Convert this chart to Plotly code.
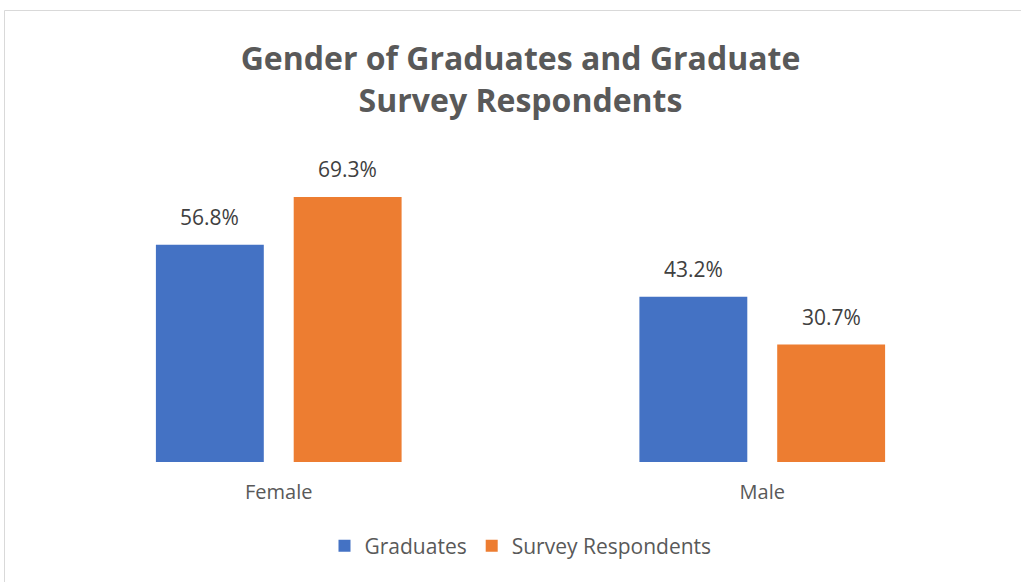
import plotly.graph_objects as go

categories = ["Female", "Male"]
graduates = [56.8, 43.2]
respondents = [69.3, 30.7]
series = [("Graduates", graduates, "#4472C4"), ("Survey Respondents", respondents, "#ED7D31")]

W, H = 1021, 582
L, R, T, B = 37, 17, 156, 120
pw, ph = W - L - R, H - T - B

def px(x):
    return (x - L) / pw

def py(y):
    return (H - B - y) / ph

fig = go.Figure()
for name, vals, col in series:
    fig.add_bar(name=name, x=categories, y=vals, marker_color=col, marker_line_width=0)

annotations = []
offsets = [-69, 69]
for (name, vals, col), off in zip(series, offsets):
    for c, v in zip(categories, vals):
        annotations.append(dict(x=c, y=v, xref="x", yref="y", text=f"{v:.1f}%",
                                showarrow=False, xshift=off, yanchor="bottom", yshift=12,
                                font=dict(size=21, color="#404040", family="Open Sans")))

fig.update_layout(
    width=W, height=H,
    margin=dict(l=L, r=R, t=T, b=B),
    paper_bgcolor="white", plot_bgcolor="white",
    barmode="group", bargap=0.43, bargroupgap=0.217,
    font=dict(family="Open Sans", color="#595959"),
    title=dict(text="<b>Gender of Graduates and Graduate<br>Survey Respondents</b>",
               x=0.5, xref="paper", xanchor="center", y=1 - 70 / H, yanchor="middle",
               font=dict(size=32, color="#595959", family="Open Sans")),
    xaxis=dict(showline=False, ticks="", tickfont=dict(size=20, color="#595959"),
               ticklabelstandoff=16),
    yaxis=dict(range=[0, 80], visible=False),
    legend=dict(orientation="h", x=0.5, xanchor="center", y=py(546), yanchor="middle",
                font=dict(size=21, color="#595959"), itemwidth=30, traceorder="normal"),
    annotations=annotations,
    shapes=[dict(type="rect", xref="paper", yref="paper",
                 x0=px(4.5), x1=px(1030), y0=py(590), y1=py(10.5),
                 line=dict(color="#D9D9D9", width=1), fillcolor="rgba(0,0,0,0)", layer="below")],
)

fig.write_html("out.html", config={"displayModeBar": False},
               post_script="document.body.style.margin='0';")
